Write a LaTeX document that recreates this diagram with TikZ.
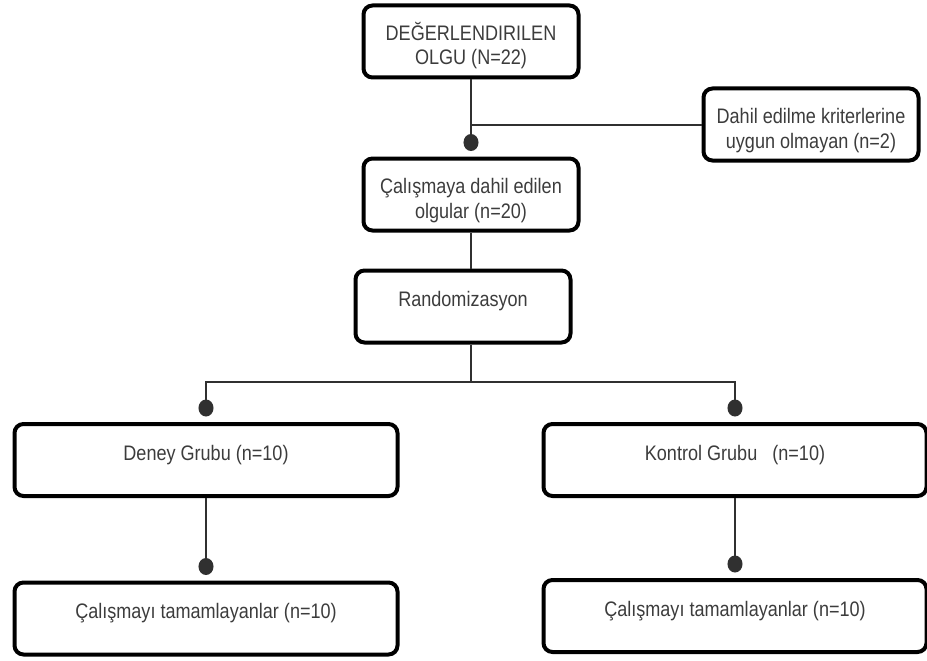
\documentclass[tikz,border=0pt]{standalone}
\usepackage{fontspec}
\setmainfont{Liberation Sans}[FakeStretch=0.86]
\usepackage{xcolor}
\usetikzlibrary{arrows.meta,positioning}
\definecolor{txtgray}{HTML}{3C3C3C}
\definecolor{lngray}{HTML}{303030}
\tikzset{
  fbox/.style={draw=black, line width=4pt, rounded corners=9pt, align=center, text=txtgray, font=\fontsize{21pt}{24.5pt}\selectfont, inner sep=4pt, minimum height=72pt},
  nbox/.style={fbox, minimum width=215pt, text height=51pt, text depth=4pt},
  wbox/.style={fbox, minimum width=383pt},
  oneline/.style={text height=15pt, text depth=15pt},
  farr/.style={draw=lngray, line width=2pt, -{Circle[length=17pt,width=15pt]}, shorten >=5.5pt},
  fline/.style={draw=lngray, line width=2pt}
}

\begin{document}
\begin{tikzpicture}[x=1pt,y=-1pt]
\useasboundingbox (0,0) rectangle (927,661);
\node[nbox] (olgu) at (471,41.5) {DEĞERLENDIRILEN\\OLGU (N=22)};
\node[nbox] (calisma) at (471,194.5) {Çalışmaya dahil edilen\\olgular (n=20)};
\node[nbox] (dahil) at (811,124.5) {Dahil edilme kriterlerine\\uygun olmayan (n=2)};
\node[nbox, oneline] (random) at (463,306.5) {Randomizasyon};
\node[wbox, oneline] (deney) at (206,460) {Deney Grubu (n=10)};
\node[wbox, oneline] (kontrol) at (735,460) {Kontrol Grubu~~~(n=10)};
\node[wbox, oneline] (tamam1) at (206,618.5) {Çalışmayı tamamlayanlar (n=10)};
\node[wbox, oneline] (tamam2) at (735,616) {Çalışmayı tamamlayanlar (n=10)};
\coordinate (split) at (471,382);
\draw[farr] (olgu) -- (calisma);
\draw[fline] (olgu.south |- dahil.west) -- (dahil.west);
\draw[fline] (calisma.south) -- (calisma.south |- random.north);
\draw[fline] (calisma.south |- random.south) -- (split);
\draw[farr] (split) -| (deney.north);
\draw[farr] (split) -| (kontrol.north);
\draw[farr] (deney) -- (tamam1);
\draw[farr] (kontrol) -- (tamam2);
\end{tikzpicture}
\end{document}
